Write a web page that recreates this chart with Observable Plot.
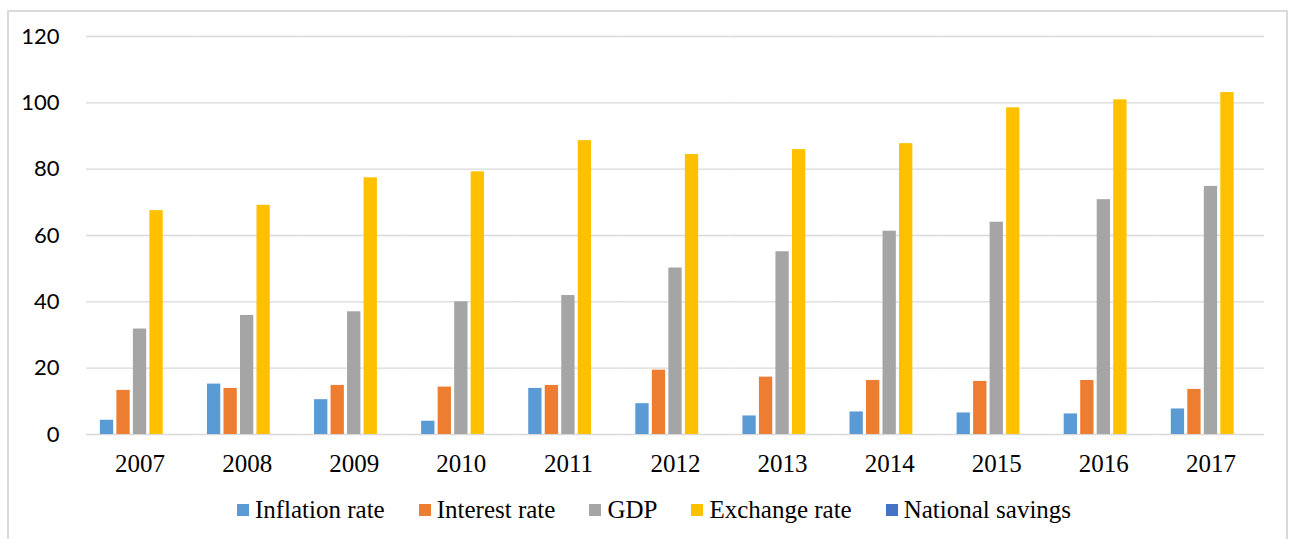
<!DOCTYPE html>
<html>
<head>
<meta charset="utf-8">
<script src="https://cdn.jsdelivr.net/npm/d3@7"></script>
<script src="https://cdn.jsdelivr.net/npm/@observablehq/plot@0.6"></script>
<style>
  html, body { margin: 0; padding: 0; background: #fff; width: 1290px; height: 539px; overflow: hidden; }
  #frame { position: absolute; left: 7px; top: 10px; width: 1281px; height: 560px; box-sizing: border-box; border: 2px solid #dadada; }
  #chart { position: absolute; left: 0; top: 0; }
  #chart g[aria-label="y-axis tick label"] { font-family: Lato, "Open Sans", sans-serif; font-size: 22px; fill: #000; }
  #chart g[aria-label="fx-axis tick label"] { font-family: "Liberation Serif", "DejaVu Serif", serif; font-size: 25px; fill: #000; }
  #legend { position: absolute; left: 18px; top: 496px; width: 1272px; display: flex; justify-content: center; align-items: center; gap: 34px;
            font-family: "Liberation Serif", "DejaVu Serif", serif; font-size: 25px; color: #000; white-space: nowrap; }
  #legend .item { display: flex; align-items: center; gap: 6px; }
  #legend .sw { width: 12px; height: 12px; display: inline-block; }
</style>
</head>
<body>
<div id="frame"></div>
<div id="chart"></div>
<div id="legend"></div>
<script>
const years = ["2007", "2008", "2009", "2010", "2011", "2012", "2013", "2014", "2015", "2016", "2017"];
const seriesNames = ["Inflation rate", "Interest rate", "GDP", "Exchange rate", "National savings"];
const seriesColors = ["#5B9BD5", "#ED7D31", "#A5A5A5", "#FFC000", "#4472C4"];
const inflationRate = [4.3, 15.2, 10.5, 4.0, 13.9, 9.3, 5.6, 6.8, 6.5, 6.2, 7.7];
const interestRate = [13.3, 13.9, 14.8, 14.3, 14.8, 19.4, 17.3, 16.3, 16.0, 16.3, 13.6];
const gdp = [31.8, 35.9, 37.0, 40.0, 41.9, 50.2, 55.1, 61.3, 64.0, 70.8, 74.8];
const exchangeRate = [67.5, 69.1, 77.4, 79.2, 88.6, 84.4, 85.9, 87.7, 98.5, 100.9, 103.1];
const nationalSavings = [null, null, null, null, null, null, null, null, null, null, null];
const yTicks = [0, 20, 40, 60, 80, 100, 120];

const seriesValues = [inflationRate, interestRate, gdp, exchangeRate, nationalSavings];
const table = [];
years.forEach((year, i) => {
  seriesNames.forEach((name, s) => {
    table.push({year, series: name, value: seriesValues[s][i]});
  });
});

const chart = Plot.plot({
  width: 1290,
  height: 480,
  marginLeft: 86,
  marginRight: 26,
  marginTop: 36,
  marginBottom: 46,
  style: {background: "transparent", color: "#000"},
  fx: {domain: years, padding: 0, round: false, label: null, tickSize: 0, tickPadding: 20, axis: "bottom"},
  x: {domain: seriesNames, axis: null, round: false, paddingInner: 0.194, paddingOuter: 0.84},
  y: {domain: [0, 120], ticks: yTicks, tickSize: 0, tickPadding: 27, label: null},
  color: {domain: seriesNames, range: seriesColors},
  marks: [
    Plot.ruleY(yTicks, {stroke: "#d9d9d9", strokeWidth: 1.3}),
    Plot.barY(table.filter(d => d.value != null), {fx: "year", x: "series", y1: 0, y2: "value", fill: "series"})
  ]
});
document.getElementById("chart").appendChild(chart);

const legend = document.getElementById("legend");
seriesNames.forEach((name, s) => {
  const item = document.createElement("div");
  item.className = "item";
  const sw = document.createElement("span");
  sw.className = "sw";
  sw.style.background = seriesColors[s];
  const label = document.createElement("span");
  label.textContent = name;
  item.appendChild(sw);
  item.appendChild(label);
  legend.appendChild(item);
});
</script>
</body>
</html>
